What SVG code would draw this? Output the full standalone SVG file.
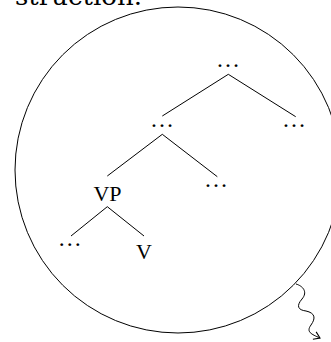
<svg xmlns="http://www.w3.org/2000/svg" width="331" height="342" viewBox="0 0 331 342">
<style>
.lbl{font-family:"Liberation Serif","Times New Roman",serif;font-size:22px;fill:#000;text-anchor:middle}
.dots{font-family:"Liberation Serif","Times New Roman",serif;font-size:24px;fill:#000;text-anchor:middle}
.edge{stroke:#000;stroke-width:1;fill:none}
</style>
<defs>
<marker id="to" viewBox="-7 -5 8 10" markerWidth="8" markerHeight="10" refX="0" refY="0" orient="auto" markerUnits="userSpaceOnUse">
<path d="M-6,-4 Q-1.5,-1 0,0 Q-1.5,1 -6,4" fill="none" stroke="#000" stroke-width="1.1"/>
</marker>
</defs>
<rect width="331" height="342" fill="#fff"/>
<text x="15" y="4.5" font-family="DejaVu Serif, serif" font-size="25" textLength="127" lengthAdjust="spacingAndGlyphs">struction.</text>
<circle cx="178" cy="170" r="163" fill="none" stroke="#000" stroke-width="1"/>
<g id="connectors">
<line class="edge" x1="228.3" y1="74.3" x2="162.3" y2="116"/>
<line class="edge" x1="228.3" y1="74.3" x2="295.7" y2="116.7"/>
<line class="edge" x1="162.3" y1="134.3" x2="107.3" y2="176"/>
<line class="edge" x1="162.3" y1="134.3" x2="217.3" y2="176.7"/>
<line class="edge" x1="107.3" y1="206.7" x2="71" y2="236"/>
<line class="edge" x1="107.3" y1="206.7" x2="144" y2="236"/>
<path class="edge" d="M296,284 C303,286 308,292 302,299 C296,306 298,310 306,311 C315,313 316,318 311,325 C306,332 311,334 320,338" marker-end="url(#to)"/>
</g>
<g id="n-root"><text class="dots" x="228" y="67">…</text></g>
<g id="n-mid"><text class="dots" x="162" y="127">…</text></g>
<g id="n-right"><text class="dots" x="294" y="127">…</text></g>
<g id="n-vp"><text class="lbl" x="107.5" y="201">VP</text></g>
<g id="n-sib"><text class="dots" x="216" y="187">…</text></g>
<g id="n-leaf"><text class="dots" x="69.7" y="245.5">…</text></g>
<g id="n-v"><text class="lbl" x="144" y="259">V</text></g>
</svg>
